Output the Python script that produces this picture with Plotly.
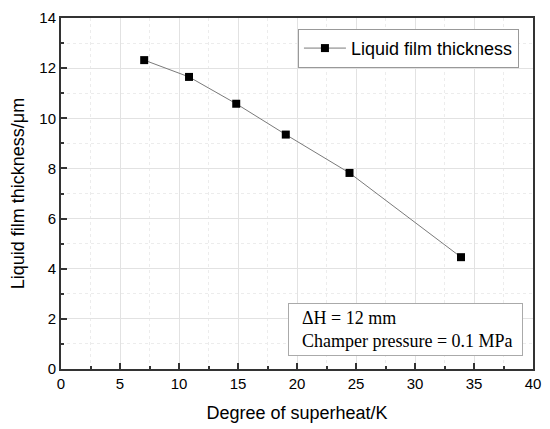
import plotly.graph_objects as go

# Degree of superheat (K) vs liquid film thickness (um)
superheat = [7.05, 10.85, 14.85, 19.05, 24.45, 33.9]
thickness = [12.32, 11.65, 10.58, 9.35, 7.82, 4.46]

fig = go.Figure()
fig.add_trace(go.Scatter(
    x=superheat, y=thickness,
    mode="lines+markers",
    name="Liquid film thickness",
    line=dict(color="#7a7a7a", width=1),
    marker=dict(symbol="square", size=8, color="black"),
))

axis_common = dict(
    showline=True, linecolor="#333333", linewidth=2, mirror=True,
    ticks="inside", ticklen=6, tickwidth=1.5, tickcolor="#333333",
    showgrid=True, gridcolor="#e2e2e2", gridwidth=1,
    zeroline=False, automargin=False,
    tickfont=dict(family="Liberation Sans, Arial", size=15, color="#000"),
    title_font=dict(family="Liberation Sans, Arial", size=18, color="#000"),
)

fig.update_xaxes(
    range=[0, 40], dtick=5, title_text="Degree of superheat/K",
    minor=dict(dtick=2.5, ticks="inside", ticklen=3, tickcolor="#333333",
               showgrid=True, gridcolor="#ececec", griddash="dot"),
    **axis_common,
)
fig.update_yaxes(
    range=[0, 14], dtick=2, title_text="Liquid film thickness/μm",
    minor=dict(dtick=1, ticks="inside", ticklen=3, tickcolor="#333333",
               showgrid=True, gridcolor="#ececec", griddash="dot"),
    **axis_common,
)

fig.add_annotation(
    xref="paper", yref="paper", x=0.979, y=0.036, xanchor="right", yanchor="bottom",
    text="\u00a0\u00a0ΔH = 12 mm<br>\u00a0\u00a0Champer pressure = 0.1 MPa",
    showarrow=False, align="left", width=225,
    font=dict(family="Liberation Serif, Times New Roman", size=18, color="#000"),
    bordercolor="#aaaaaa", borderwidth=1, borderpad=4, bgcolor="white",
)

# page body has an 8px margin, so the figure is shrunk by that much
fig.update_layout(
    width=542, height=421,
    margin=dict(l=53, r=17, t=10, b=60),
    plot_bgcolor="white", paper_bgcolor="white",
    legend=dict(
        x=0.502, y=0.969, xanchor="left", yanchor="top",
        bordercolor="#999999", borderwidth=1, bgcolor="white",
        font=dict(family="Liberation Sans, Arial", size=18, color="#000"),
        tracegroupgap=0, itemwidth=42,
    ),
    showlegend=True,
)

fig.write_html("out.html")
